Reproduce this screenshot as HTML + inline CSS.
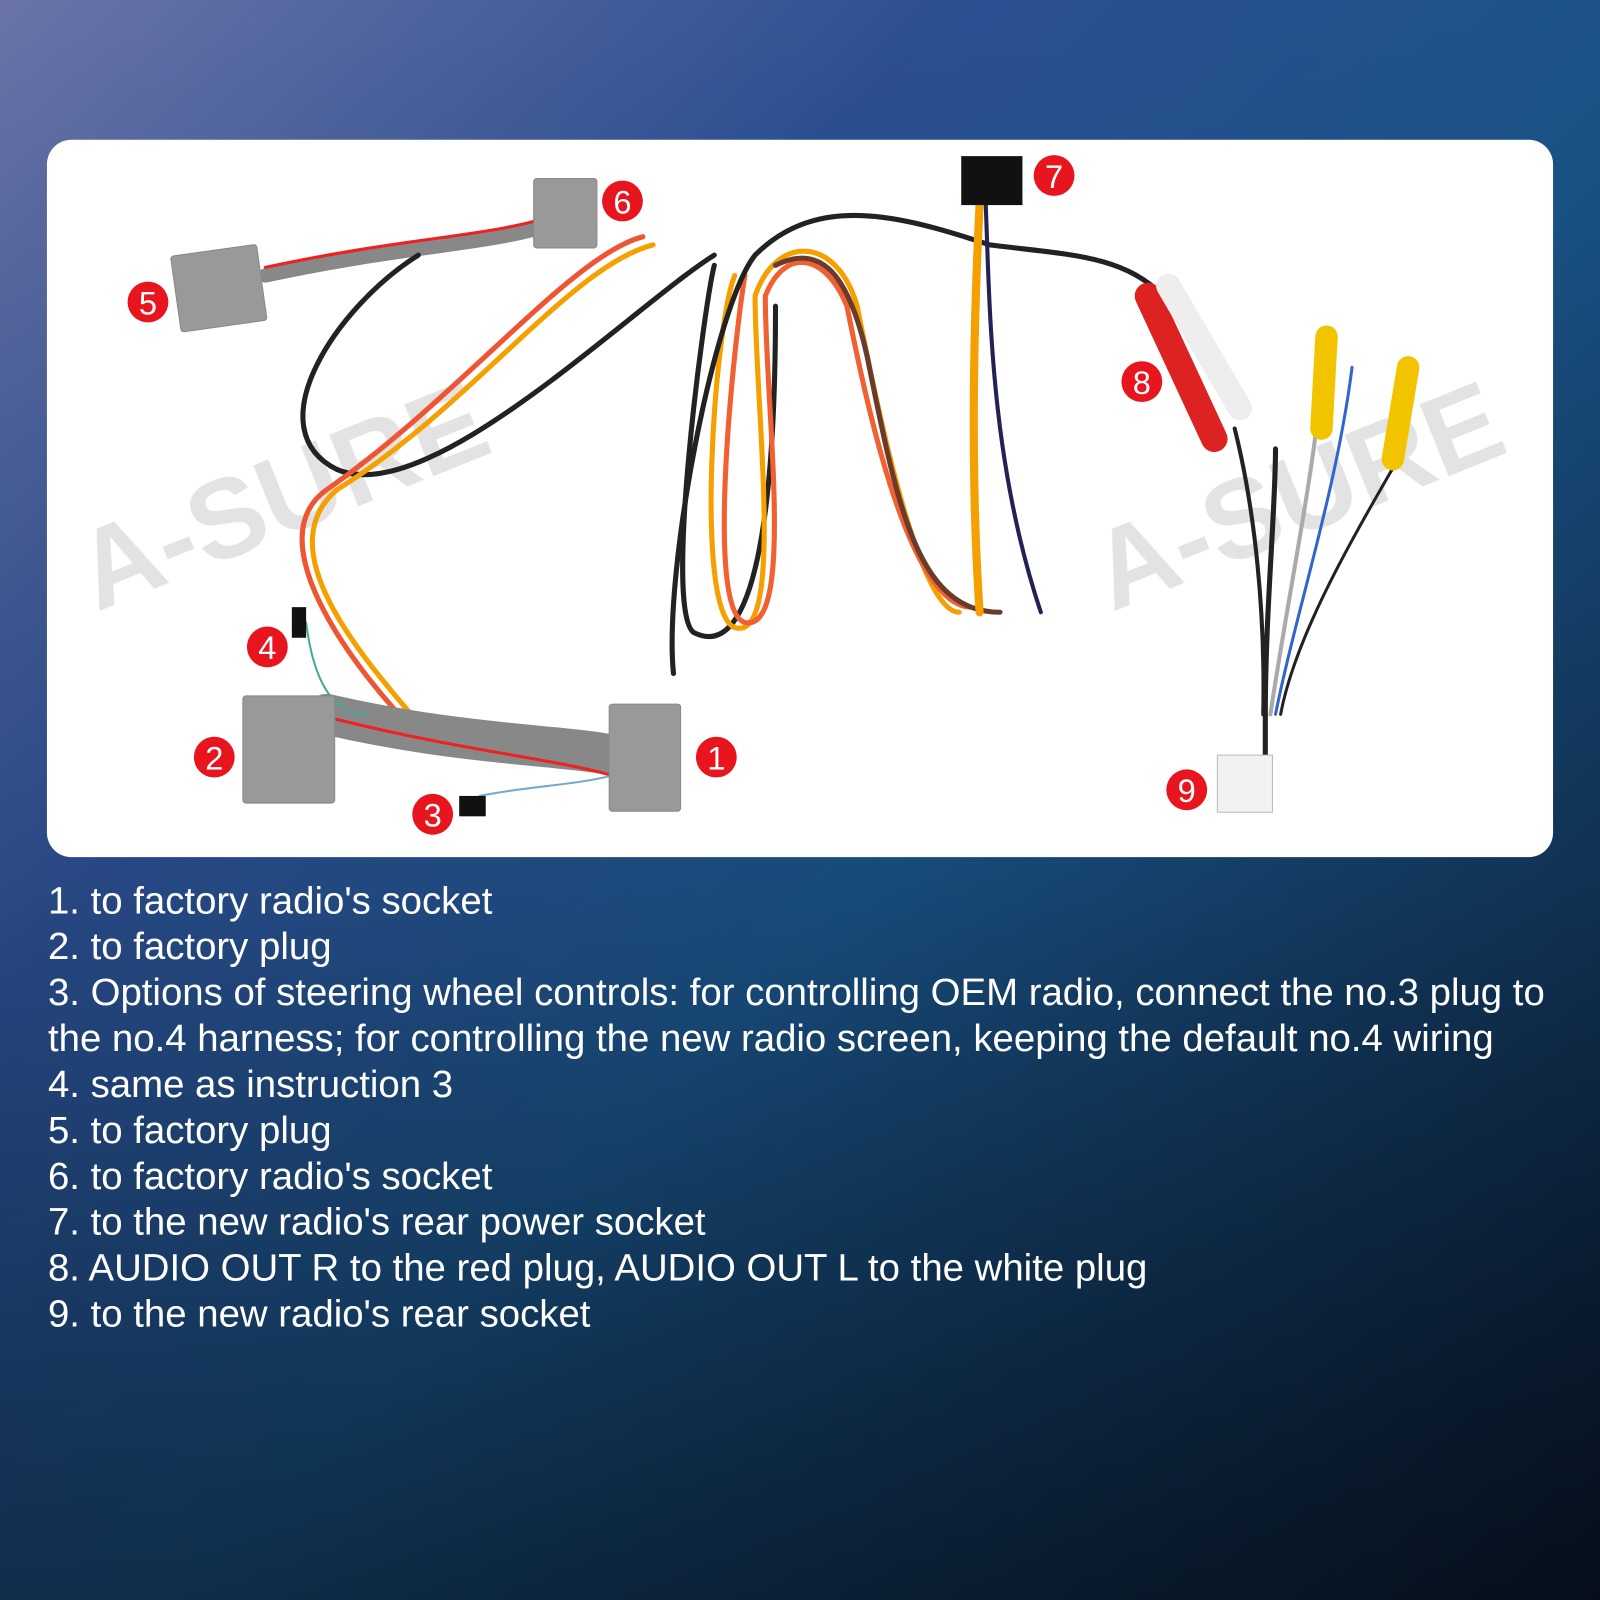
<!DOCTYPE html>
<html><head><meta charset="utf-8"><style>
html,body{margin:0;padding:0;width:1600px;height:1600px;overflow:hidden}
svg{display:block}
</style></head><body>
<svg width="1600" height="1600" viewBox="0 0 1568 1568" xmlns="http://www.w3.org/2000/svg">
<defs>
<linearGradient id="bg" x1="0" y1="0" x2="1" y2="1">
<stop offset="0" stop-color="#6a74a8"/><stop offset="0.3" stop-color="#2c4f92"/><stop offset="0.55" stop-color="#1a5387"/><stop offset="1" stop-color="#0a1a30"/>
</linearGradient>
<linearGradient id="bg2" x1="0" y1="0" x2="0" y2="1">
<stop offset="0" stop-color="#000" stop-opacity="0"/><stop offset="0.55" stop-color="#000" stop-opacity="0.1"/><stop offset="1" stop-color="#000" stop-opacity="0.45"/>
</linearGradient>
</defs>
<rect width="1568" height="1568" fill="url(#bg)"/>
<rect width="1568" height="1568" fill="url(#bg2)"/>
<rect x="46" y="137" width="1476" height="703" rx="24" fill="#fff"/>
<g fill="#ddd" font-family="Liberation Sans, sans-serif" font-weight="bold" font-size="110" opacity="0.8">
<text x="95" y="600" transform="rotate(-22 95 600)">A-SURE</text>
<text x="1090" y="600" transform="rotate(-22 1090 600)">A-SURE</text>
</g>
<g fill="none" stroke-linecap="round">
<path d="M260 270 C400 240 480 240 540 220" stroke="#888" stroke-width="14"/>
<path d="M260 262 C400 232 480 232 540 212" stroke="#e22" stroke-width="3"/>
<path d="M410 250 C330 300 250 420 330 460 C420 500 620 300 700 250" stroke="#222" stroke-width="5"/>
<path d="M640 240 C560 260 460 400 330 480 C260 540 360 650 420 720" stroke="#f5a000" stroke-width="5"/>
<path d="M630 232 C560 250 450 390 320 480 C250 530 350 660 410 720" stroke="#e53" stroke-width="5"/>
<path d="M700 260 C690 300 650 600 680 620 C740 650 760 500 760 300" stroke="#222" stroke-width="5"/>
<path d="M720 270 C700 320 680 600 720 615 C770 630 740 400 740 290 C760 230 820 230 840 300 C860 400 900 600 940 600" stroke="#f5a000" stroke-width="5"/>
<path d="M730 270 C720 330 690 600 730 610 C780 620 750 400 750 290 C770 240 810 250 830 300 C850 400 890 590 950 595" stroke="#f06030" stroke-width="5"/>
<path d="M760 260 C800 240 830 260 850 350 C880 500 900 600 980 600" stroke="#6a3a2a" stroke-width="5"/>
<path d="M660 660 C650 560 700 300 740 250 C800 190 880 210 970 240 C1050 250 1100 250 1140 290" stroke="#222" stroke-width="5"/>
<path d="M960 200 C955 300 950 450 960 600" stroke="#f5a000" stroke-width="8"/>
<path d="M966 200 C970 300 970 450 1020 600" stroke="#225" stroke-width="4"/>
<path d="M320 700 C450 730 550 730 600 740" stroke="#888" stroke-width="40"/>
<path d="M330 705 C450 735 550 745 600 760" stroke="#e22" stroke-width="3"/>
<path d="M300 610 C310 690 340 700 360 700" stroke="#4a9" stroke-width="2"/>
<path d="M470 780 C520 770 560 770 600 760" stroke="#7ac" stroke-width="2"/>
<path d="M1250 440 C1250 500 1240 600 1240 700 L1240 760" stroke="#222" stroke-width="5"/>
<path d="M1290 420 C1280 500 1260 600 1245 700" stroke="#aaa" stroke-width="4"/>
<path d="M1325 360 C1310 480 1270 600 1250 700" stroke="#36c" stroke-width="3"/>
<path d="M1370 450 C1330 520 1270 620 1255 700" stroke="#222" stroke-width="3"/>
<path d="M1210 420 C1230 500 1240 600 1238 700" stroke="#222" stroke-width="4"/>
</g>
<g fill="#999" stroke="#888">
<rect x="172" y="245" width="85" height="75" rx="3" transform="rotate(-8 214 283)"/>
<rect x="523" y="175" width="62" height="68" rx="3"/>
<rect x="238" y="682" width="90" height="105" rx="3"/>
<rect x="597" y="690" width="70" height="105" rx="3"/>
</g>
<rect x="942" y="153" width="60" height="48" fill="#111"/>
<rect x="1193" y="740" width="54" height="56" fill="#f2f2f2" stroke="#bbb"/>
<rect x="286" y="595" width="14" height="30" fill="#111"/>
<rect x="450" y="780" width="26" height="20" fill="#111"/>
<g stroke-linecap="round">
<path d="M1125 290 L1190 430" stroke="#d22" stroke-width="26"/>
<path d="M1145 280 L1215 400" stroke="#eee" stroke-width="24"/>
<path d="M1300 330 L1295 420" stroke="#f2c400" stroke-width="22"/>
<path d="M1380 360 L1365 450" stroke="#f2c400" stroke-width="22"/>
</g>
<g font-family="Liberation Sans, sans-serif" font-size="32" fill="#fff" text-anchor="middle">
<circle cx="702" cy="742" r="20" fill="#e8141e"/><text x="702" y="754">1</text>
<circle cx="210" cy="742" r="20" fill="#e8141e"/><text x="210" y="754">2</text>
<circle cx="424" cy="798" r="20" fill="#e8141e"/><text x="424" y="810">3</text>
<circle cx="262" cy="634" r="20" fill="#e8141e"/><text x="262" y="646">4</text>
<circle cx="145" cy="296" r="20" fill="#e8141e"/><text x="145" y="308">5</text>
<circle cx="610" cy="197" r="20" fill="#e8141e"/><text x="610" y="209">6</text>
<circle cx="1033" cy="172" r="20" fill="#e8141e"/><text x="1033" y="184">7</text>
<circle cx="1119" cy="374" r="20" fill="#e8141e"/><text x="1119" y="386">8</text>
<circle cx="1163" cy="774" r="20" fill="#e8141e"/><text x="1163" y="786">9</text>
</g>
<g font-family="Liberation Sans, sans-serif" font-size="37.6" fill="#fff">
<text x="47" y="895">1. to factory radio's socket</text>
<text x="47" y="940">2. to factory plug</text>
<text x="47" y="985">3. Options of steering wheel controls: for controlling OEM radio, connect the no.3 plug to</text>
<text x="47" y="1030">the no.4 harness; for controlling the new radio screen, keeping the default no.4 wiring</text>
<text x="47" y="1075">4. same as instruction 3</text>
<text x="47" y="1120">5. to factory plug</text>
<text x="47" y="1165">6. to factory radio's socket</text>
<text x="47" y="1210">7. to the new radio's rear power socket</text>
<text x="47" y="1255">8. AUDIO OUT R to the red plug, AUDIO OUT L to the white plug</text>
<text x="47" y="1300">9. to the new radio's rear socket</text>
</g>
</svg>
</body></html>
